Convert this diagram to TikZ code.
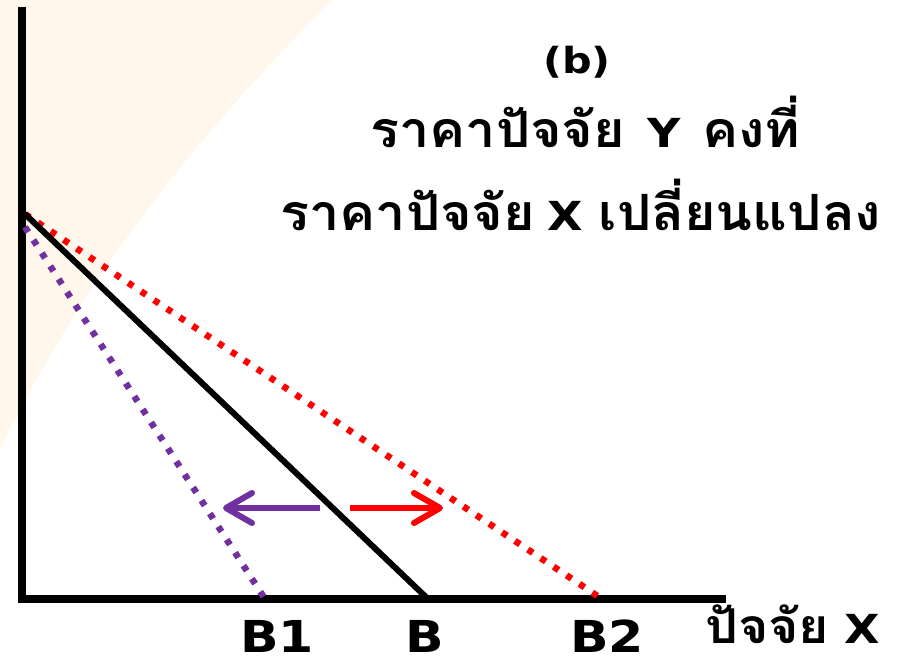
\documentclass[tikz,border=0pt]{standalone}
\usepackage{fontspec}
\newfontfamily\thaifont[Script=Thai,FakeStretch=1.08]{Loma}
\newfontfamily\latfont[FakeStretch=1.15]{DejaVu Sans}
\usetikzlibrary{arrows.meta}
\definecolor{peach}{RGB}{255,246,236}
\definecolor{purp}{RGB}{112,48,160}
\definecolor{redl}{RGB}{255,0,0}
\tikzset{
  axisline/.style={line width=7.5pt, line cap=butt},
  budget/.style={line width=6pt},
  dotline/.style={line width=6.5pt, dash pattern=on 6pt off 9.5pt},
  shiftarrow/.style={line width=6pt, -{Straight Barb[length=26pt, width=30pt, round]}},
  lab/.style={inner sep=0pt, anchor=base, font=\latfont\bfseries\fontsize{44}{46}\selectfont},
  title/.style={inner sep=0pt, anchor=base west, font=\thaifont\bfseries\fontsize{50}{54}\selectfont}
}
\newcommand{\TL}[1]{{\latfont\bfseries\fontsize{40}{42}\selectfont #1}}
\begin{document}
\begin{tikzpicture}[x=1pt,y=-1pt]
\useasboundingbox (0,0) rectangle (915,663);
\fill[peach] (0,0) -- (333,0) .. controls (230,100) and (90,260) .. (0,450) -- cycle;
\coordinate (O) at (22,599);
\coordinate (Ytop) at (22,7);
\coordinate (Xend) at (726,599);
\coordinate (Xstart) at (18.25,599);
\coordinate (Ybot) at (22,602.75);
\coordinate (A) at (25,214);
\coordinate (A1) at (25,227);
\coordinate (B) at (428,599);
\coordinate (B1) at (265,599);
\coordinate (B2) at (602,599);
\coordinate (pa) at (320,508);
\coordinate (pb) at (223,508);
\coordinate (ra) at (350,508);
\coordinate (rb) at (443,508);
\draw[axisline] (Ytop) -- (Ybot);
\draw[axisline] (Xstart) -- (Xend);
\draw[redl, dotline] (A) -- (B2);
\draw[purp, dotline] (A1) -- (B1);
\draw[budget] (A) -- (B);
\draw[purp, shiftarrow] (pa) -- (pb);
\draw[redl, shiftarrow] (ra) -- (rb);
\node[lab, font=\latfont\bfseries\fontsize{36}{38}\selectfont] (tb) at (577,73.5) {(b)};
\node[title] (t1) at (370,148) {ราคาปัจจัย\hspace{22pt}\TL{Y}\hspace{22pt}คงที่};
\node[title] (t2) at (280,230) {ราคาปัจจัย\hspace{12pt}\TL{X}\hspace{16pt}เปลี่ยนแปลง};
\node[lab] (lb1) at (277,652) {B1};
\node[lab] (lb) at (425,652) {B};
\node[lab] (lb2) at (607,652) {B2};
\node[title, font=\thaifont\bfseries\fontsize{48}{52}\selectfont] (lx) at (705,643) {ปัจจัย\hspace{15pt}\TL{X}};
\end{tikzpicture}
\end{document}
